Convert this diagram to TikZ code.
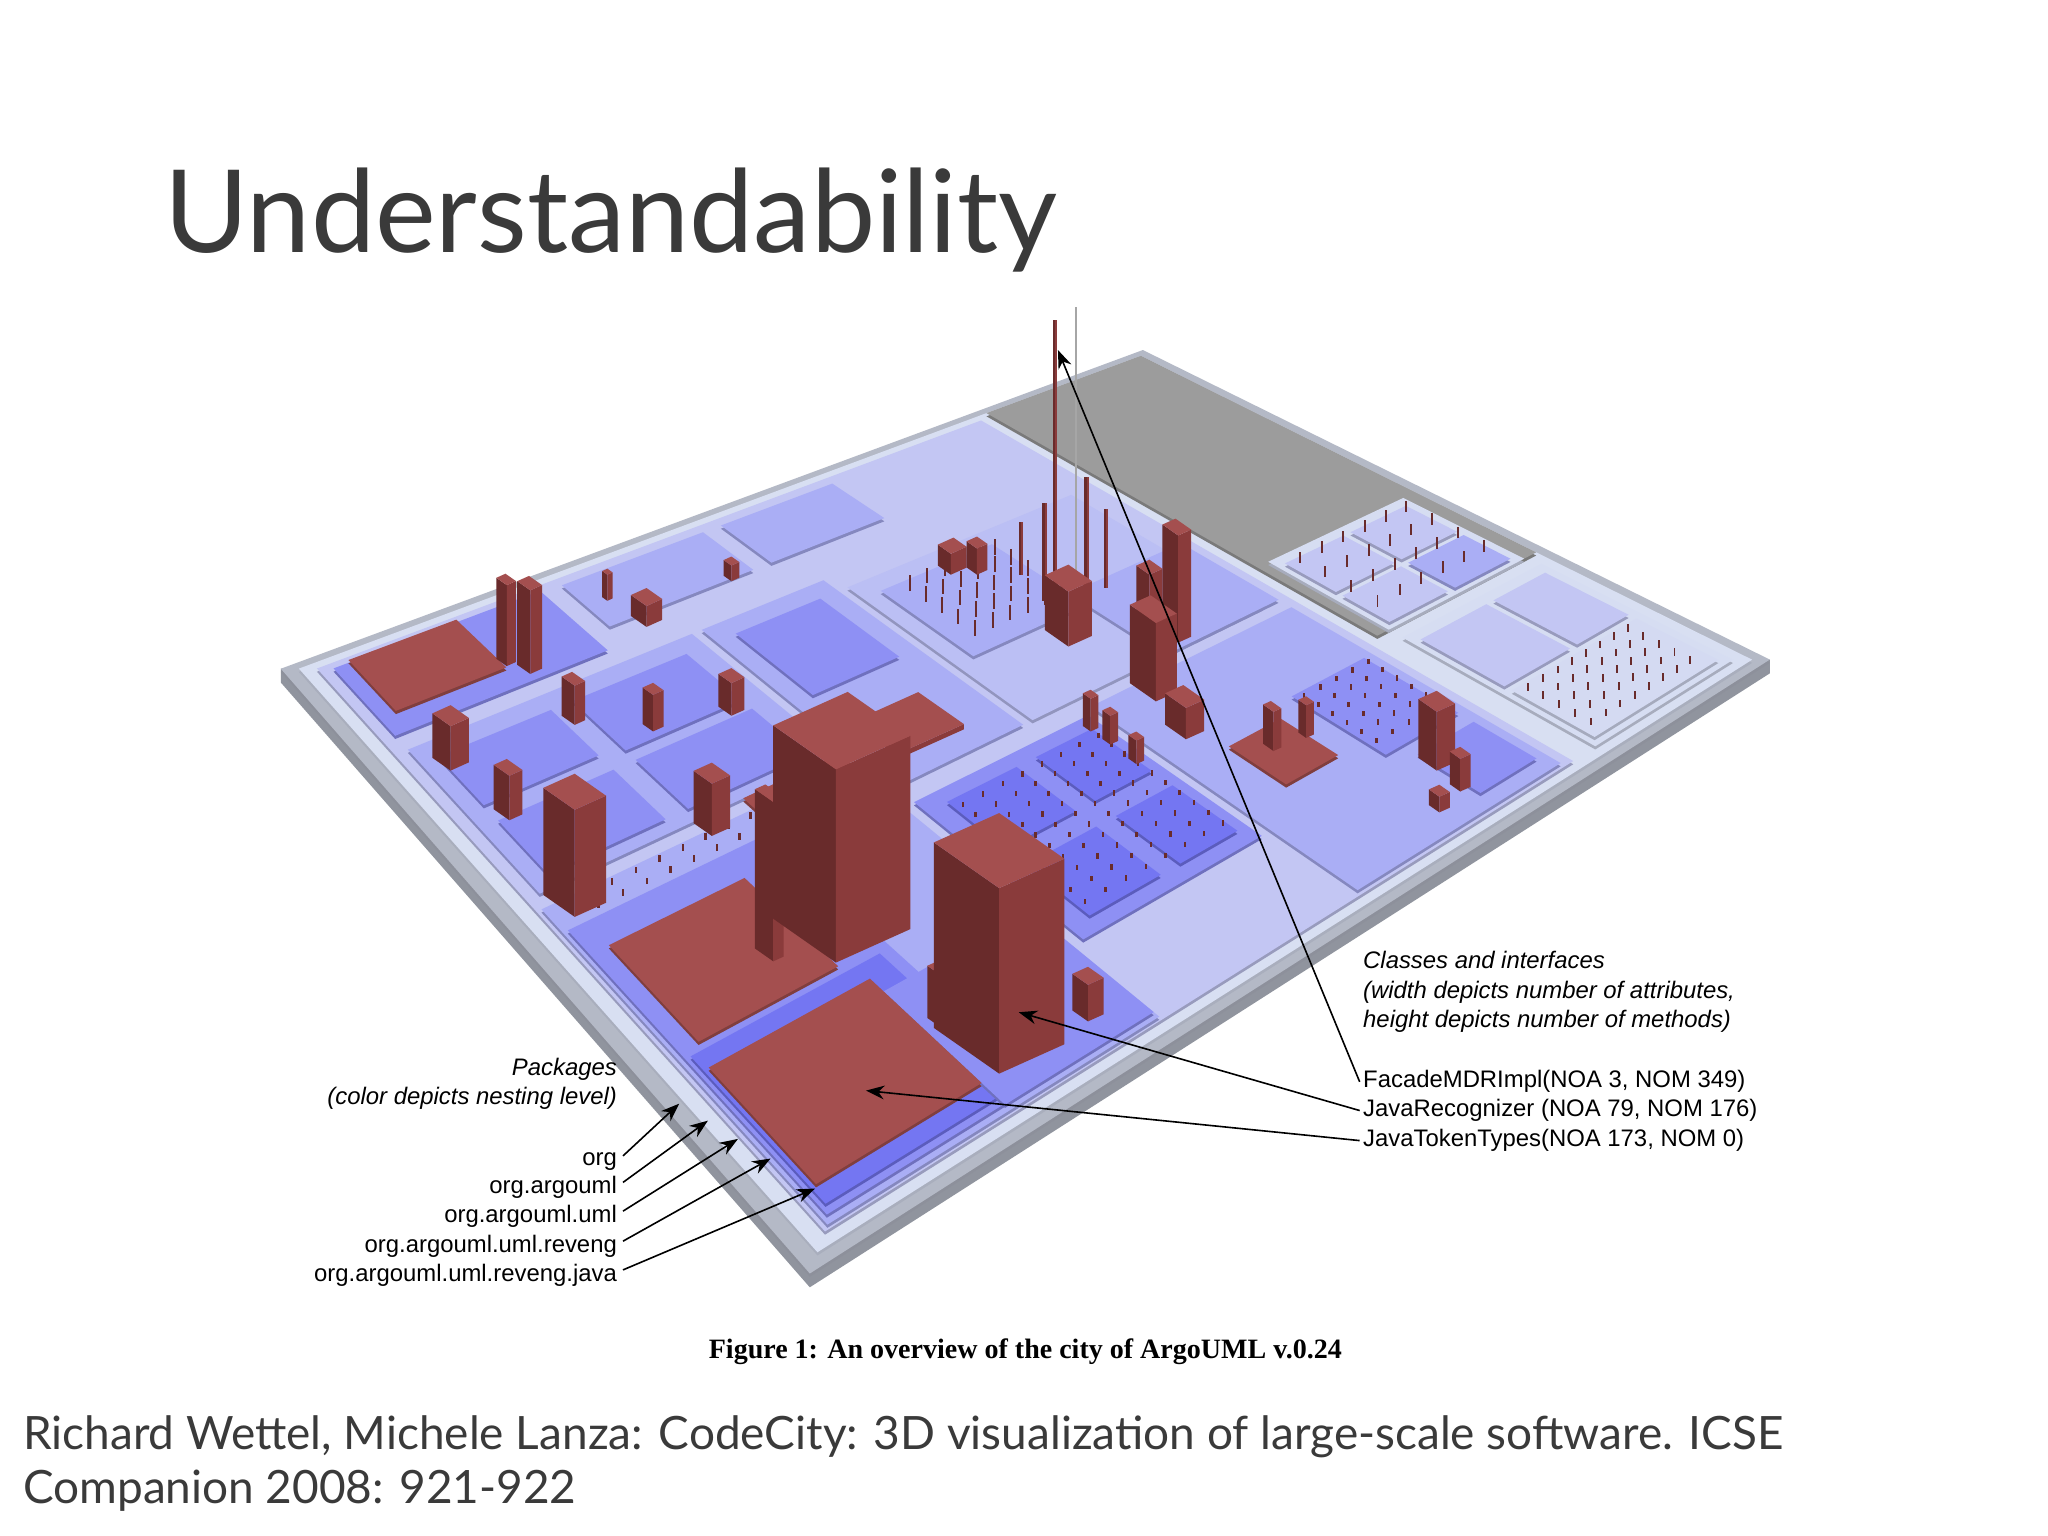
\documentclass[tikz,border=0pt]{standalone}
\usepackage{fontspec}
\setmainfont{Liberation Sans}
\newfontfamily\lato{Lato}
\newfontfamily\tnr{Liberation Serif}
\usetikzlibrary{arrows.meta}
\definecolor{edgeC}{HTML}{B4B9C6}
\definecolor{Lone}{HTML}{D8DFF2}
\definecolor{Ltwo}{HTML}{C3C6F3}
\definecolor{Lthree}{HTML}{AAAEF5}
\definecolor{Lfour}{HTML}{8E90F4}
\definecolor{Lfive}{HTML}{7476F2}
\definecolor{grayR}{HTML}{9C9C9C}
\definecolor{bt}{HTML}{A44F4F}
\definecolor{bl}{HTML}{692B2B}
\definecolor{br}{HTML}{8A3B3B}
\definecolor{txt}{HTML}{3A3A3A}
\newcommand\hp[2]{{(946.4*(#1)+209.2*(#2)+215)/(1+0.3273*(#1)-0.3158*(#2))},{(-156.3*(#1)+155.1*(#2)+512)/(1+0.3273*(#1)-0.3158*(#2))}}
\newcommand\reg[5]{%
 \fill[#5!78!black] ([yshift=-0.7pt]\hp{#1}{#2}) -- ([yshift=-0.7pt]\hp{#3}{#2}) -- ([yshift=-0.7pt]\hp{#3}{#4}) -- ([yshift=-0.7pt]\hp{#1}{#4}) -- cycle;
 \fill[#5] (\hp{#1}{#2}) -- (\hp{#3}{#2}) -- (\hp{#3}{#4}) -- (\hp{#1}{#4}) -- cycle;}
\newcommand\bx[5]{%
 \fill[bl] (#1,#2) -- ++(-#3,-0.7*#3) -- ++(0,-#5) -- ++(#3,0.7*#3) -- cycle;
 \fill[br] (#1,#2) -- ++(#4,-0.45*#4) -- ++(0,-#5) -- ++(-#4,0.45*#4) -- cycle;
 \fill[bt] (#1,#2-#5) -- ++(-#3,-0.7*#3) -- ++(#4,-0.45*#4) -- ++(#3,0.7*#3) -- cycle;}
\newcommand\spk[3]{\fill[bl] (#1,#2) rectangle ++(2,-#3); \fill[br] (#1+2,#2) rectangle ++(1.5,-#3);}
\tikzset{lbl/.style={font=\fontsize{5.2}{6.5}\selectfont, inner sep=0pt},
 ar/.style={-{Stealth[length=4pt,width=3pt]}, line width=0.35pt}}
\begin{document}
\begin{tikzpicture}[x=0.01cm,y=-0.01cm]
\useasboundingbox (0,0) rectangle (1568,1176);
\fill[white] (0,0) rectangle (1568,1176);
% title
\node[anchor=base west, inner sep=0pt, text=txt, font=\lato\fontsize{25}{28}\selectfont] (title) at (125,193) {Understandability};
% board slab
\fill[edgeC!80!black] (\hp{0}{0}) -- ([yshift=-3pt]\hp{0}{0}) -- ([yshift=-3pt]\hp{0}{1}) -- ([yshift=-3pt]\hp{1}{1}) -- (\hp{1}{1}) -- cycle;
\reg{0}{0}{1}{1}{edgeC}
\reg{0.012}{0.012}{0.988}{0.988}{Lone}
\reg{0.765}{0.012}{0.988}{0.70}{grayR}
\reg{0.78}{0.515}{0.97}{0.70}{Lone!90!Ltwo}
\reg{0.79}{0.53}{0.87}{0.61}{Ltwo}
\reg{0.88}{0.53}{0.96}{0.61}{Ltwo}
\reg{0.79}{0.62}{0.87}{0.69}{Ltwo}
\reg{0.88}{0.62}{0.96}{0.69}{Lthree}
\reg{0.78}{0.72}{0.975}{0.975}{Lone!90!Ltwo}
\reg{0.79}{0.735}{0.88}{0.85}{Ltwo}
\reg{0.89}{0.735}{0.965}{0.85}{Ltwo}
\reg{0.79}{0.86}{0.965}{0.965}{Lone!80!Ltwo}
% main package
\reg{0.024}{0.024}{0.75}{0.976}{Ltwo}
\reg{0.035}{0.035}{0.23}{0.19}{Lfour}
\reg{0.25}{0.04}{0.40}{0.15}{Lthree}
\reg{0.42}{0.04}{0.55}{0.15}{Lthree}
\reg{0.45}{0.25}{0.72}{0.58}{Ltwo!70!Lthree}
\reg{0.47}{0.28}{0.60}{0.45}{Lthree}
\reg{0.60}{0.42}{0.74}{0.58}{Lthree}
\reg{0.035}{0.22}{0.30}{0.50}{Lthree}
\reg{0.05}{0.25}{0.15}{0.35}{Lfour}
\reg{0.17}{0.25}{0.28}{0.36}{Lfour}
\reg{0.05}{0.38}{0.15}{0.48}{Lfour}
\reg{0.17}{0.38}{0.28}{0.48}{Lfour}
\reg{0.31}{0.22}{0.44}{0.58}{Lthree}
\reg{0.33}{0.25}{0.42}{0.40}{Lfour}
\reg{0.028}{0.52}{0.30}{0.972}{Lthree}
\reg{0.032}{0.56}{0.20}{0.964}{Lfour}
\reg{0.036}{0.76}{0.19}{0.955}{Lfive}
\reg{0.17}{0.80}{0.30}{0.965}{Lfour}
\reg{0.31}{0.61}{0.49}{0.86}{Lfour}
\reg{0.33}{0.63}{0.40}{0.72}{Lfive}
\reg{0.42}{0.63}{0.48}{0.72}{Lfive}
\reg{0.33}{0.75}{0.40}{0.84}{Lfive}
\reg{0.42}{0.75}{0.48}{0.84}{Lfive}
\reg{0.50}{0.60}{0.74}{0.97}{Lthree}
\reg{0.64}{0.72}{0.73}{0.85}{Lfour}
\reg{0.66}{0.87}{0.73}{0.95}{Lfour}
% tiny classes texture
\foreach \a in {0.335,0.355,...,0.475} \foreach \b in {0.645,0.665,...,0.835} \fill[bl] (\hp{\a}{\b}) rectangle ++(2,-4);
\foreach \a in {0.645,0.665,...,0.725} \foreach \b in {0.73,0.75,...,0.84} \fill[bl] (\hp{\a}{\b}) rectangle ++(2,-4);
\foreach \a in {0.80,0.82,...,0.96} \foreach \b in {0.87,0.89,...,0.96} \fill[bl] (\hp{\a}{\b}) rectangle ++(1.5,-6);
\foreach \a in {0.80,0.83,...,0.95} \foreach \b in {0.54,0.58,...,0.68} \fill[bl] (\hp{\a}{\b}) rectangle ++(1.5,-9);
\foreach \a in {0.06,0.08,...,0.28} \foreach \b in {0.53,0.55} \fill[bl] (\hp{\a}{\b}) rectangle ++(2,-5);
\foreach \a in {0.49,0.51,...,0.59} \foreach \b in {0.30,0.33,...,0.43} \fill[bl] (\hp{\a}{\b}) rectangle ++(1.5,-12);
% flat classes
\reg{0.05}{0.03}{0.15}{0.15}{bt}
\reg{0.047}{0.60}{0.16}{0.75}{bt}
\reg{0.04}{0.78}{0.17}{0.935}{bt}
\reg{0.55}{0.74}{0.61}{0.82}{bt}
\reg{0.21}{0.50}{0.30}{0.58}{bt}
% buildings back to front
\bx{388}{510}{8}{7}{62}
\bx{406}{516}{10}{9}{64}
\bx{465}{460}{4}{4}{20}
\bx{495}{480}{12}{12}{16}
\bx{560}{445}{6}{6}{12}
\spk{798}{460}{75}
\spk{830}{455}{90}
\spk{845}{450}{60}
\spk{780}{440}{40}
\spk{806}{470}{225}
\fill[gray!70] (823,470) rectangle ++(1.5,-235);
\bx{728}{440}{10}{12}{16}
\bx{748}{440}{8}{8}{20}
\bx{818}{495}{18}{18}{42}
\bx{902}{492}{12}{10}{82}
\bx{880}{480}{10}{10}{40}
\bx{885}{537}{20}{16}{60}
\bx{440}{555}{10}{8}{30}
\bx{500}{560}{8}{8}{28}
\bx{560}{548}{10}{10}{25}
\bx{908}{566}{16}{14}{24}
\bx{345}{590}{14}{14}{34}
\bx{390}{628}{12}{10}{34}
\bx{545}{640}{14}{14}{40}
\bx{975}{575}{8}{6}{30}
\bx{1000}{565}{6}{6}{25}
\bx{1100}{590}{14}{14}{45}
\bx{1118}{606}{8}{8}{25}
\bx{1102}{622}{8}{8}{12}
\bx{835}{560}{6}{6}{25}
\bx{850}{570}{6}{6}{22}
\bx{870}{585}{6}{6}{18}
\bx{690}{580}{35}{48}{4}
\bx{440}{702}{24}{24}{82}
\bx{592}{736}{14}{8}{122}
\bx{640}{737}{48}{57}{148}
\bx{718}{785}{8}{6}{40}
\bx{765}{822}{50}{50}{142}
\bx{833}{782}{12}{12}{28}
% caption
\node[anchor=base, inner sep=0pt, font=\tnr\bfseries\fontsize{6.1}{7}\selectfont] (cap) at (785,1040) {Figure 1: An overview of the city of ArgoUML v.0.24};
% citation
\node[anchor=base west, inner sep=0pt, text=txt, font=\lato\fontsize{10}{11.6}\selectfont] (cite) at (17,1110) {Richard Wettel, Michele Lanza: CodeCity: 3D visualization of large-scale software. ICSE};
\node[anchor=base west, inner sep=0pt, text=txt, font=\lato\fontsize{10}{11.6}\selectfont] (cite2) at (17,1151) {Companion 2008: 921-922};
% labels
\node[lbl, anchor=base east, align=right, font=\itshape\fontsize{5.2}{6.5}\selectfont] (pk) at (473,846) {Packages\\(color depicts nesting level)};
\node[lbl, anchor=base east] (l1) at (473,892) {org};
\node[lbl, anchor=base east] (l2) at (473,914) {org.argouml};
\node[lbl, anchor=base east] (l3) at (473,936) {org.argouml.uml};
\node[lbl, anchor=base east] (l4) at (473,959) {org.argouml.uml.reveng};
\node[lbl, anchor=base east] (l5) at (473,981) {org.argouml.uml.reveng.java};
\node[lbl, anchor=base west, align=left, font=\itshape\fontsize{5.2}{6.5}\selectfont] (cl) at (1043,787) {Classes and interfaces\\(width depicts number of attributes,\\height depicts number of methods)};
\node[lbl, anchor=base west] (f1) at (1043,833) {FacadeMDRImpl(NOA 3, NOM 349)};
\node[lbl, anchor=base west] (f2) at (1043,855) {JavaRecognizer (NOA 79, NOM 176)};
\node[lbl, anchor=base west] (f3) at (1043,878) {JavaTokenTypes(NOA 173, NOM 0)};
\coordinate (t1) at (520,845);
\coordinate (t2) at (542,858);
\coordinate (t3) at (565,872);
\coordinate (t4) at (590,887);
\coordinate (t5) at (624,910);
\coordinate (tf) at (810,268);
\coordinate (tr) at (780,775);
\coordinate (tj) at (663,835);
\draw[ar] (l1.east)+(4,-4) -- (t1);
\draw[ar] (l2.east)+(4,-4) -- (t2);
\draw[ar] (l3.east)+(4,-4) -- (t3);
\draw[ar] (l4.east)+(4,-4) -- (t4);
\draw[ar] (l5.east)+(4,-4) -- (t5);
\draw[ar] (f1.west)+(-2,0) -- (tf);
\draw[ar] (f2.west)+(-2,0) -- (tr);
\draw[ar] (f3.west)+(-2,0) -- (tj);
\end{tikzpicture}
\end{document}
